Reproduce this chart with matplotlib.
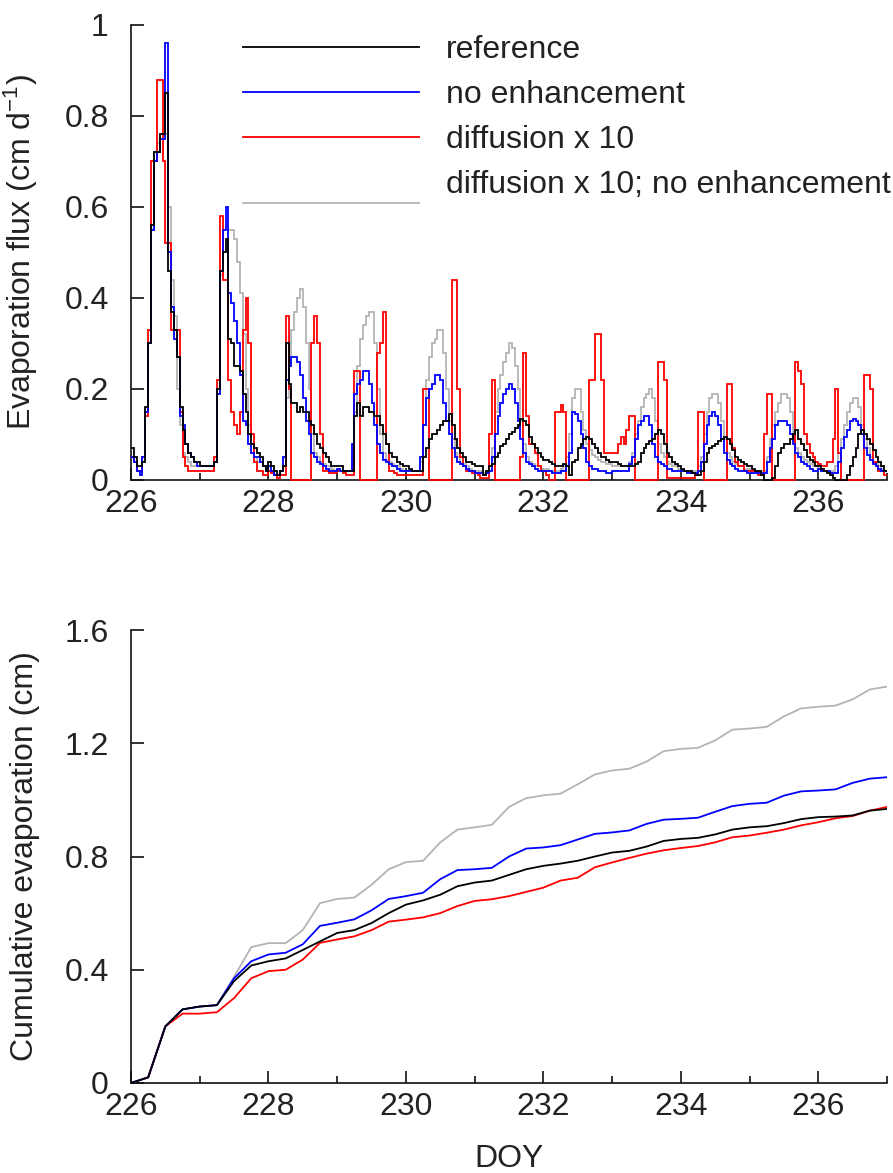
import numpy as np
import matplotlib
matplotlib.use("Agg")
import matplotlib.pyplot as plt
from matplotlib.ticker import FixedLocator
from matplotlib.legend_handler import HandlerLine2D

plt.rcParams['font.family'] = ['Liberation Sans', 'DejaVu Sans']
plt.rcParams['mathtext.default'] = 'regular'

# ---------------- data ----------------
START_DOY = 226
HOURS_PER_DAY = 24
END_DOY = 237

labels = ["reference", "no enhancement", "diffusion x 10", "diffusion x 10; no enhancement"]
colors = ["#000000", "#0000ff", "#ff0000", "#b4b4b4"]

# hourly evaporation flux (cm d-1), DOY 226 .. 236 (24 values per day)
flux_reference = [
    0.07,0.05,0.03,0.03,0.04,0.16,0.30,0.56,0.72,0.72,0.76,0.76,0.85,0.46,0.37,0.33,0.27,0.16,0.11,0.08,0.06,0.05,0.04,0.04,
    0.03,0.03,0.03,0.03,0.03,0.04,0.20,0.46,0.50,0.53,0.31,0.30,0.25,0.25,0.24,0.19,0.15,0.10,0.08,0.07,0.06,0.05,0.03,0.02,
    0.04,0.03,0.02,0.01,0.02,0.03,0.30,0.21,0.17,0.17,0.15,0.16,0.15,0.15,0.13,0.12,0.10,0.08,0.07,0.06,0.05,0.04,0.03,0.03,
    0.03,0.03,0.02,0.02,0.02,0.02,0.14,0.17,0.14,0.16,0.16,0.15,0.15,0.14,0.14,0.12,0.10,0.08,0.06,0.05,0.05,0.04,0.035,0.03,
    0.03,0.025,0.02,0.02,0.02,0.02,0.05,0.07,0.09,0.10,0.10,0.11,0.12,0.13,0.13,0.145,0.12,0.09,0.07,0.06,0.05,0.04,0.04,0.035,
    0.03,0.03,0.03,0.01,0.02,0.03,0.035,0.05,0.06,0.075,0.08,0.09,0.10,0.105,0.115,0.12,0.135,0.13,0.12,0.095,0.08,0.07,0.06,0.05,
    0.045,0.045,0.04,0.035,0.03,0.03,0.03,0.035,0.03,0.01,0.04,0.045,0.07,0.08,0.09,0.095,0.09,0.08,0.07,0.06,0.05,0.05,0.045,0.04,
    0.04,0.04,0.035,0.03,0.03,0.03,0.03,0.03,0.035,0.04,0.06,0.07,0.08,0.085,0.09,0.10,0.11,0.10,0.08,0.06,0.05,0.04,0.035,0.03,
    0.025,0.02,0.02,0.02,0.015,0.01,0.01,0.02,0.04,0.06,0.07,0.075,0.08,0.085,0.09,0.095,0.09,0.08,0.065,0.05,0.045,0.04,0.035,0.03,
    0.03,0.025,0.02,0.02,0.01,0.0,0.0,0.0,0.005,0.03,0.06,0.07,0.08,0.08,0.09,0.10,0.11,0.09,0.08,0.065,0.05,0.045,0.04,0.03,
    0.03,0.025,0.02,0.015,0.01,0.005,0.0,0.0,0.0,0.0,0.01,0.03,0.05,0.07,0.10,0.11,0.10,0.09,0.08,0.065,0.05,0.04,0.03,0.02,
]

flux_no_enh = [
    0.05,0.04,0.02,0.01,0.05,0.15,0.30,0.55,0.70,0.72,0.75,0.75,0.96,0.50,0.38,0.31,0.27,0.14,0.12,0.08,0.06,0.05,0.04,0.03,
    0.03,0.03,0.03,0.03,0.03,0.04,0.19,0.46,0.55,0.60,0.41,0.39,0.35,0.30,0.23,0.13,0.12,0.08,0.06,0.05,0.05,0.04,0.03,0.02,
    0.03,0.02,0.01,0.01,0.02,0.05,0.22,0.25,0.27,0.27,0.26,0.23,0.18,0.13,0.10,0.06,0.05,0.04,0.035,0.03,0.025,0.02,0.02,0.02,
    0.025,0.02,0.02,0.02,0.02,0.08,0.19,0.21,0.22,0.24,0.24,0.21,0.17,0.12,0.08,0.06,0.045,0.04,0.035,0.03,0.03,0.025,0.02,0.02,
    0.02,0.02,0.02,0.02,0.02,0.05,0.12,0.18,0.20,0.21,0.23,0.23,0.22,0.17,0.13,0.10,0.07,0.05,0.04,0.035,0.03,0.025,0.02,0.02,
    0.015,0.015,0.015,0.01,0.015,0.02,0.05,0.10,0.14,0.17,0.19,0.20,0.21,0.20,0.17,0.13,0.09,0.06,0.04,0.035,0.03,0.025,0.02,0.02,
    0.02,0.02,0.02,0.015,0.015,0.015,0.02,0.02,0.03,0.06,0.15,0.145,0.13,0.10,0.07,0.04,0.03,0.025,0.025,0.02,0.02,0.02,0.015,0.015,
    0.02,0.02,0.02,0.02,0.02,0.02,0.035,0.05,0.09,0.12,0.13,0.14,0.14,0.12,0.08,0.05,0.04,0.035,0.03,0.025,0.025,0.02,0.02,0.02,
    0.02,0.02,0.015,0.015,0.015,0.015,0.02,0.04,0.08,0.12,0.14,0.15,0.14,0.12,0.09,0.06,0.045,0.035,0.03,0.025,0.02,0.02,0.02,0.015,
    0.015,0.015,0.015,0.015,0.015,0.015,0.04,0.07,0.09,0.12,0.13,0.13,0.13,0.12,0.10,0.08,0.06,0.05,0.04,0.035,0.03,0.025,0.02,0.02,
    0.025,0.02,0.02,0.02,0.015,0.015,0.015,0.04,0.07,0.095,0.11,0.13,0.135,0.13,0.12,0.10,0.07,0.055,0.045,0.035,0.03,0.025,0.02,0.02,
]

flux_diff10 = [
    0.05,0.04,0.02,0.02,0.05,0.14,0.33,0.70,0.70,0.88,0.88,0.70,0.52,0.52,0.33,0.33,0.33,0.15,0.05,0.03,0.02,0.02,0.02,0.02,
    0.02,0.02,0.02,0.02,0.02,0.05,0.22,0.58,0.44,0.44,0.22,0.15,0.12,0.10,0.15,0.33,0.40,0.30,0.10,0.04,0.02,0.02,0.01,0.01,
    0.02,0.015,0.01,0.005,0.01,0.01,0.36,0.20,0.0,0.0,0.0,0.0,0.0,0.0,0.0,0.30,0.36,0.30,0.10,0.02,0.02,0.015,0.015,0.015,
    0.02,0.02,0.015,0.01,0.01,0.01,0.24,0.24,0.0,0.0,0.0,0.0,0.0,0.0,0.28,0.30,0.37,0.08,0.02,0.02,0.015,0.01,0.01,0.01,
    0.01,0.01,0.01,0.01,0.01,0.01,0.20,0.20,0.0,0.0,0.0,0.0,0.0,0.0,0.0,0.0,0.44,0.44,0.20,0.05,0.03,0.02,0.02,0.015,
    0.015,0.01,0.005,0.005,0.005,0.10,0.22,0.0,0.0,0.0,0.0,0.0,0.0,0.0,0.0,0.0,0.05,0.28,0.14,0.08,0.08,0.06,0.03,0.02,
    0.02,0.01,0.0,0.0,0.15,0.15,0.165,0.15,0.0,0.0,0.0,0.0,0.0,0.0,0.0,0.0,0.22,0.22,0.32,0.32,0.22,0.06,0.06,0.06,
    0.06,0.06,0.08,0.095,0.08,0.11,0.14,0.14,0.0,0.0,0.0,0.0,0.0,0.0,0.0,0.0,0.26,0.26,0.22,0.005,0.005,0.005,0.005,0.005,
    0.005,0.005,0.005,0.005,0.005,0.01,0.15,0.15,0.0,0.0,0.0,0.0,0.0,0.0,0.0,0.0,0.21,0.21,0.07,0.04,0.03,0.03,0.02,0.02,
    0.02,0.02,0.02,0.01,0.01,0.10,0.19,0.19,0.0,0.0,0.0,0.0,0.0,0.0,0.0,0.0,0.26,0.24,0.21,0.10,0.08,0.06,0.05,0.04,
    0.035,0.03,0.03,0.04,0.04,0.09,0.20,0.06,0.0,0.0,0.0,0.0,0.0,0.0,0.0,0.0,0.23,0.23,0.20,0.04,0.03,0.02,0.02,0.01,
]

flux_diff10_no_enh = [
    0.05,0.04,0.02,0.02,0.05,0.15,0.30,0.55,0.72,0.74,0.76,0.76,0.76,0.60,0.44,0.36,0.20,0.12,0.06,0.05,0.04,0.03,0.03,0.03,
    0.03,0.03,0.03,0.03,0.03,0.04,0.19,0.45,0.50,0.52,0.55,0.55,0.53,0.48,0.41,0.32,0.20,0.12,0.08,0.05,0.04,0.04,0.03,0.02,
    0.02,0.02,0.01,0.01,0.02,0.05,0.18,0.26,0.33,0.37,0.40,0.42,0.38,0.30,0.20,0.10,0.06,0.05,0.04,0.035,0.03,0.03,0.025,0.02,
    0.02,0.02,0.02,0.02,0.02,0.05,0.15,0.25,0.31,0.34,0.36,0.37,0.37,0.30,0.20,0.10,0.06,0.045,0.04,0.035,0.03,0.03,0.025,0.02,
    0.02,0.02,0.02,0.02,0.02,0.04,0.12,0.22,0.27,0.30,0.31,0.33,0.33,0.28,0.20,0.13,0.09,0.06,0.05,0.04,0.035,0.03,0.025,0.02,
    0.02,0.02,0.02,0.015,0.02,0.03,0.07,0.15,0.20,0.23,0.26,0.28,0.30,0.29,0.25,0.20,0.13,0.08,0.05,0.04,0.035,0.03,0.03,0.025,
    0.025,0.025,0.02,0.02,0.02,0.02,0.025,0.03,0.05,0.10,0.18,0.20,0.20,0.15,0.11,0.08,0.065,0.055,0.05,0.045,0.04,0.04,0.035,0.035,
    0.03,0.03,0.03,0.03,0.03,0.03,0.04,0.06,0.10,0.13,0.16,0.18,0.19,0.20,0.18,0.13,0.08,0.06,0.05,0.04,0.035,0.03,0.03,0.025,
    0.025,0.02,0.02,0.02,0.02,0.02,0.03,0.05,0.10,0.15,0.18,0.19,0.19,0.17,0.13,0.09,0.06,0.05,0.04,0.035,0.03,0.03,0.025,0.025,
    0.02,0.02,0.02,0.02,0.02,0.02,0.05,0.09,0.12,0.15,0.17,0.19,0.19,0.18,0.15,0.10,0.07,0.06,0.05,0.045,0.04,0.035,0.03,0.03,
    0.025,0.02,0.02,0.02,0.02,0.02,0.03,0.06,0.09,0.12,0.15,0.17,0.18,0.18,0.16,0.12,0.09,0.07,0.05,0.04,0.035,0.03,0.025,0.02,
]

# cumulative evaporation (cm), every 6 h from DOY 226.00 to 237.00
CUM_STEP_DAYS = 0.25
cum_reference = [
    0.0, 0.02, 0.20, 0.26, 0.27, 0.275, 0.36, 0.415, 0.43, 0.44, 0.47, 0.50,
    0.53, 0.54, 0.565, 0.60, 0.63, 0.645, 0.665, 0.695, 0.708, 0.715, 0.735, 0.755,
    0.767, 0.775, 0.785, 0.80, 0.814, 0.82, 0.835, 0.855, 0.862, 0.866, 0.878, 0.895,
    0.903, 0.907, 0.918, 0.932, 0.939, 0.941, 0.945, 0.962, 0.968,
]
cum_no_enh = [
    0.0, 0.02, 0.20, 0.26, 0.27, 0.275, 0.37, 0.43, 0.454, 0.46, 0.49, 0.555,
    0.566, 0.578, 0.61, 0.65, 0.66, 0.672, 0.72, 0.752, 0.755, 0.76, 0.80, 0.828,
    0.832, 0.84, 0.86, 0.88, 0.885, 0.892, 0.915, 0.93, 0.933, 0.937, 0.958, 0.978,
    0.986, 0.99, 1.015, 1.03, 1.033, 1.037, 1.06, 1.075, 1.08,
]
cum_diff10 = [
    0.0, 0.02, 0.20, 0.245, 0.245, 0.25, 0.30, 0.37, 0.395, 0.40, 0.436, 0.495,
    0.507, 0.518, 0.54, 0.57, 0.577, 0.585, 0.60, 0.625, 0.643, 0.649, 0.66, 0.675,
    0.69, 0.715, 0.725, 0.762, 0.779, 0.795, 0.81, 0.822, 0.83, 0.837, 0.85, 0.868,
    0.874, 0.884, 0.895, 0.91, 0.921, 0.935, 0.943, 0.962, 0.975,
]
cum_diff10_no_enh = [
    0.0, 0.02, 0.20, 0.26, 0.27, 0.275, 0.375, 0.48, 0.494, 0.494, 0.54, 0.635,
    0.65, 0.655, 0.70, 0.755, 0.78, 0.785, 0.85, 0.895, 0.903, 0.912, 0.975, 1.006,
    1.016, 1.022, 1.055, 1.09, 1.104, 1.11, 1.135, 1.172, 1.18, 1.184, 1.21, 1.248,
    1.252, 1.258, 1.295, 1.323, 1.329, 1.333, 1.355, 1.39, 1.40,
]

top_yticks = [0, 0.2, 0.4, 0.6, 0.8, 1.0]
top_yticklabels = ["0", "0.2", "0.4", "0.6", "0.8", "1"]
bot_yticks = [0, 0.4, 0.8, 1.2, 1.6]
bot_yticklabels = ["0", "0.4", "0.8", "1.2", "1.6"]
x_major = [226, 228, 230, 232, 234, 236]
x_minor = [227, 229, 231, 233, 235, 237]

# ---------------- figure ----------------
W, H = 893, 1173
fig = plt.figure(figsize=(W / 100, H / 100), dpi=100)

def px_axes(left, top, right, bottom):
    return fig.add_axes([left / W, 1 - bottom / H, (right - left) / W, (bottom - top) / H])

ax1 = px_axes(131, 25, 887, 480)
ax2 = px_axes(131, 630, 887, 1083)

FS = 23
TXT = "#222222"

flux_series = [flux_reference, flux_no_enh, flux_diff10, flux_diff10_no_enh]
cum_series = [cum_reference, cum_no_enh, cum_diff10, cum_diff10_no_enh]
draw_order = [3, 2, 1, 0]

n_hours = len(flux_reference)
edges = START_DOY + np.arange(n_hours + 1) / HOURS_PER_DAY
for i in draw_order:
    ax1.stairs(np.array(flux_series[i]), edges, color=colors[i], lw=1.3,
               baseline=None, clip_on=False, zorder=3 + (3 - i))

tc = START_DOY + np.arange(len(cum_reference)) * CUM_STEP_DAYS
for i in draw_order:
    ax2.plot(tc, cum_series[i], color=colors[i], lw=1.3, zorder=3 + (3 - i))


class OffsetLineHandler(HandlerLine2D):
    """Legend line drawn a little below its label (as in the original figure)."""
    def __init__(self, dy, **kw):
        super().__init__(**kw)
        self.dy = dy

    def create_artists(self, legend, orig_handle, xdescent, ydescent, width,
                       height, fontsize, trans):
        arts = super().create_artists(legend, orig_handle, xdescent, ydescent,
                                      width, height, fontsize, trans)
        for a in arts:
            a.set_ydata(np.asarray(a.get_ydata(), dtype=float) - self.dy)
        return arts


# legend (on top panel)
handles = [plt.Line2D([], [], color=c, lw=1.3) for c in colors]
leg = ax1.legend(handles, labels, loc="upper left", bbox_to_anchor=(0.148, 0.978),
                 frameon=False, fontsize=FS, handlelength=5.5, handletextpad=0.85,
                 labelspacing=0.47, borderpad=0, borderaxespad=0,
                 handler_map={handles[3]: OffsetLineHandler(15)})
for t in leg.get_texts():
    t.set_color(TXT)

for ax, yt, ytl, ylim in [(ax1, top_yticks, top_yticklabels, (0, 1.0)),
                          (ax2, bot_yticks, bot_yticklabels, (0, 1.6))]:
    ax.set_xlim(START_DOY, END_DOY)
    ax.set_ylim(*ylim)
    ax.spines["top"].set_visible(False)
    ax.spines["right"].set_visible(False)
    for s in ("left", "bottom"):
        ax.spines[s].set_linewidth(1.2)
        ax.spines[s].set_color("#111111")
    ax.xaxis.set_major_locator(FixedLocator(x_major))
    ax.xaxis.set_minor_locator(FixedLocator(x_minor))
    ax.set_yticks(yt)
    ax.set_yticklabels(ytl)
    ax.tick_params(axis="both", which="major", direction="in", length=9, width=1.2,
                   labelsize=FS, labelcolor=TXT, color="#111111")
    ax.tick_params(axis="x", which="minor", direction="in", length=5, width=1.2, color="#111111")
    ax.tick_params(axis="y", which="major", pad=16)
    ax.tick_params(axis="x", which="major", pad=6.5)

ax1.set_ylabel("Evaporation flux (cm d$^{-1}$)", fontsize=FS, color=TXT)
ax2.set_ylabel("Cumulative evaporation (cm)", fontsize=FS, color=TXT)
ax2.set_xlabel("DOY", fontsize=FS, color=TXT, labelpad=16)
ax1.yaxis.set_label_coords(-0.12, 0.5)
ax2.yaxis.set_label_coords(-0.12, 0.5)

fig.savefig("out.png", dpi=100, facecolor="white")
